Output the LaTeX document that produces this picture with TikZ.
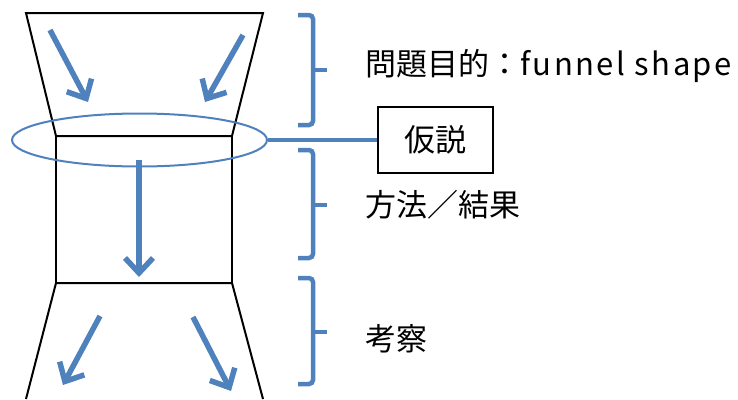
\documentclass[tikz,border=0pt]{standalone}
\usepackage{fontspec}
\newfontfamily\jp{Noto Sans CJK JP}
\newfontfamily\jpwide{Noto Sans CJK JP}[LetterSpace=8]
\usetikzlibrary{arrows.meta,shapes.geometric}
\definecolor{ablue}{RGB}{79,129,189}
\begin{document}
\begin{tikzpicture}[x=1pt,y=-1pt,
  funnel/.style={draw=black,line width=2pt,line join=miter},
  flow/.style={draw=ablue,line width=5.5pt,-{Straight Barb[length=15pt,width=28pt]}},
  brace/.style={draw=ablue,line width=4.5pt,rounded corners=4pt},
  lbl/.style={font=\jp\fontsize{31}{36}\selectfont,anchor=base west,inner sep=0pt},
]
\useasboundingbox (0,0) rectangle (738,399);
% funnel
\coordinate (tl) at (26,13);
\coordinate (tr) at (263,13);
\coordinate (ml) at (56,136);
\coordinate (mr) at (232,136);
\coordinate (bl) at (56,283);
\coordinate (br) at (232,283);
\coordinate (el) at (26,399);
\coordinate (er) at (263,399);
\draw[funnel] (tl) -- (tr) -- (mr) -- (ml) -- cycle;
\draw[funnel] (ml) rectangle (br);
\draw[funnel] (el) -- (bl) -- (br) -- (er);
% ellipse and hypothesis box
\node[ellipse,draw=ablue,line width=2pt,minimum width=255pt,minimum height=53pt] (ell) at (139.5,140) {};
\node[draw=black,line width=1.5pt,minimum width=115pt,minimum height=66pt,inner sep=0pt,font=\jp\fontsize{31}{36}\selectfont] (hyp) at (435.5,140) {仮説};
\draw[draw=ablue,line width=3.5pt] (ell.east) -- (hyp.west);
% flow arrows
\coordinate (a1s) at (50,30);  \coordinate (a1e) at (88,102);
\coordinate (a2s) at (243,35); \coordinate (a2e) at (205,102);
\coordinate (a3s) at (139,160); \coordinate (a3e) at (139,277);
\coordinate (a4s) at (100,316); \coordinate (a4e) at (63,385);
\coordinate (a5s) at (193,317); \coordinate (a5e) at (231,391);
\draw[flow] (a1s) -- (a1e);
\draw[flow] (a2s) -- (a2e);
\draw[flow] (a3s) -- (a3e);
\draw[flow] (a4s) -- (a4e);
\draw[flow] (a5s) -- (a5e);
% braces
\draw[brace] (298,15) -- (313,15) -- (313,125) -- (298,125);
\draw[brace] (313,70) -- (327,70);
\draw[brace] (298,150) -- (313,150) -- (313,258) -- (298,258);
\draw[brace] (313,205) -- (327,205);
\draw[brace] (298,278) -- (313,278) -- (313,384) -- (298,384);
\draw[brace] (313,332) -- (327,332);
% labels
\node[lbl] (t1) at (365,75) {問題目的：{\jpwide\fontsize{31}{36}\selectfont funnel shape}};
\node[lbl] (t2) at (365,216) {方法／結果};
\node[lbl] (t3) at (365,350) {考察};
\end{tikzpicture}
\end{document}
